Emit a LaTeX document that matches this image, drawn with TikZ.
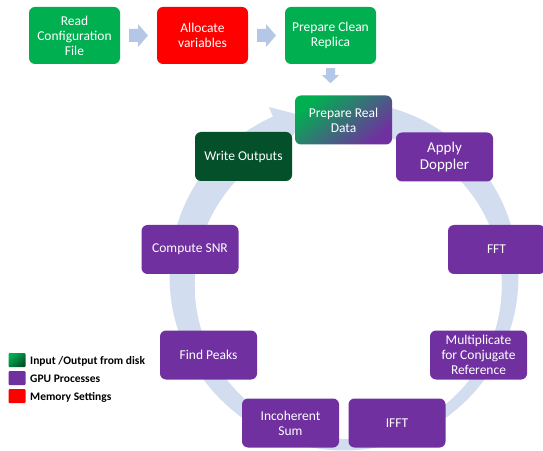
\documentclass[tikz,border=0pt]{standalone}
\usepackage{fontspec}
\setmainfont{Carlito}
\usetikzlibrary{calc}
\definecolor{pgreen}{HTML}{00B050}
\definecolor{ppurple}{HTML}{7030A0}
\definecolor{pred}{HTML}{FF0000}
\definecolor{pdark}{HTML}{03502A}
\definecolor{arrowc}{HTML}{B4C7E7}
\definecolor{ringc}{HTML}{D2DDEF}
\tikzset{
  box/.style={rounded corners=6pt, minimum width=97pt, minimum height=49pt,
    align=center, text=white, inner sep=2pt, font=\fontsize{13.5}{15}\selectfont},
  gbox/.style={box, fill=pgreen, minimum width=91pt, minimum height=57pt},
  pbox/.style={box, fill=ppurple},
  legsq/.style={minimum width=17pt, minimum height=14pt, inner sep=0pt, rounded corners=1pt},
  legtxt/.style={anchor=west, inner sep=0pt, font=\fontsize{11.5}{13}\selectfont\bfseries}
}
\newcommand\rblockarrow[1]{\fill[arrowc] ($(#1)+(-9.5,-6.5)$) -- ++(9,0) -- ++(0,-5) -- ++(10,11.5) -- ++(-10,11.5) -- ++(0,-5) -- ++(-9,0) -- cycle;}
\begin{document}
\begin{tikzpicture}[x=1pt,y=1pt]
\fill[white] (0,0) rectangle (543,450);
\useasboundingbox (0,0) rectangle (543,450);
% ring with arrow
\coordinate (ctr) at (344,174);
\fill[ringc] ($(ctr)+(90:174.5)$) arc[start angle=90, end angle=-246, radius=174.5]
  -- ($(ctr)+(-246:185)$) -- ($(ctr)+(-256.5:164)$) -- ($(ctr)+(-246:143)$)
  arc[start angle=-246, end angle=90, radius=153.5] -- cycle;
% top row
\node[gbox] (read) at (74.5,414.5) {Read\\Configuration\\File};
\node[gbox, fill=pred] (alloc) at (202.5,414.5) {Allocate\\variables};
\node[gbox] (clean) at (330.5,414.5) {Prepare Clean\\Replica};
\rblockarrow{$(read.east)!0.5!(alloc.west)$}
\rblockarrow{$(alloc.east)!0.5!(clean.west)$}
\coordinate (dn) at ($(clean.south)+(0,-11.5)$);
\fill[arrowc] ($(dn)+(-4.5,7.5)$) -- ++(9,0) -- ++(0,-7) -- ++(4,0) -- ++(-8.5,-8) -- ++(-8.5,8) -- ++(4,0) -- cycle;
% cycle nodes
\node[box, shade, top color=pgreen, middle color=pgreen!50!ppurple, bottom color=ppurple, shading angle=40] (real) at (343.5,330) {Prepare Real\\Data};
\node[box, fill=pdark] (write) at (243.5,293.5) {Write Outputs};
\node[pbox, font=\fontsize{15}{17}\selectfont] (doppler) at (444.5,293) {Apply\\Doppler};
\node[pbox] (snr) at (190,200.5) {Compute SNR};
\node[pbox] (fft) at (496.5,200.5) {FFT};
\node[pbox] (peaks) at (208.5,95) {Find Peaks};
\node[pbox] (mult) at (478.5,95) {Multiplicate\\for Conjugate\\Reference};
\node[pbox] (incoh) at (290.5,27) {Incoherent\\Sum};
\node[pbox] (ifft) at (397,27) {IFFT};
% legend
\node[legsq, shade, top color=pgreen, bottom color=pdark, shading angle=40] (l1) at (17,90) {};
\node[legsq, fill=ppurple] (l2) at (17,72) {};
\node[legsq, fill=pred] (l3) at (17,54) {};
\node[legtxt] (t1) at (30,89) {Input /Output from disk};
\node[legtxt] (t2) at (30,71) {GPU Processes};
\node[legtxt] (t3) at (30,53) {Memory Settings};
\end{tikzpicture}
\end{document}
